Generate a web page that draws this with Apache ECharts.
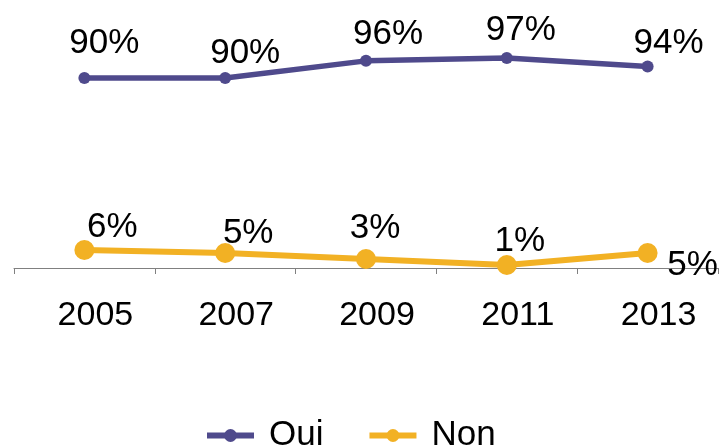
<!DOCTYPE html>
<html>
<head>
<meta charset="utf-8">
<script src="https://cdn.jsdelivr.net/npm/echarts@6/dist/echarts.min.js"></script>
<style>
  html, body { margin: 0; padding: 0; background: #fff; }
  #chart { width: 721px; height: 448px; }
</style>
</head>
<body>
<div id="chart"></div>
<script>
// data
const years = ['2005', '2007', '2009', '2011', '2013'];
const oui = [90, 90, 96, 97, 94];
const non = [6, 5, 3, 1, 5];

// label nudges (px, relative to the point) - layout only
const ouiLabelShift = [[20, -35], [20, -25], [22, -27], [14, -28], [21, -23]];
const nonLabelShift = [[28, -23], [23, -20], [9, -31], [13, -24], [45, 12]];

const font = 'Liberation Sans';

function withLabels(values, shifts) {
  return values.map((v, i) => ({
    value: v,
    label: { offset: shifts[i] },
  }));
}

const chart = echarts.init(document.getElementById('chart'));

const option = {
  animation: false,
  grid: { left: 14, right: 3, top: 0, bottom: 180 },
  xAxis: {
    type: 'category',
    data: years,
    boundaryGap: true,
    axisLine: { lineStyle: { color: '#808080', width: 1 } },
    axisTick: { show: true, length: 6, lineStyle: { color: '#808080' } },
    // labels sit a little right of the category centre in the original
    axisLabel: { color: '#000', fontFamily: font, fontSize: 34, margin: 31, padding: [0, 0, 0, 22] },
  },
  yAxis: [
    // Non sits on the main axis, 0 at the category line
    { type: 'value', min: 0, max: 89.33, show: false },
    // Oui has its own hidden scale (secondary axis in the original)
    { type: 'value', min: 23.5, max: 117.3, show: false },
  ],
  legend: {
    left: 204,
    top: 418,
    padding: 0,
    itemWidth: 47,
    itemHeight: 16,
    itemGap: 43,
    lineStyle: { width: 6 },
    textStyle: { color: '#000', fontFamily: font, fontSize: 35, padding: [2, 0, 0, 10] },
    data: ['Oui', 'Non'],
  },
  series: [
    {
      name: 'Oui',
      type: 'line',
      yAxisIndex: 1,
      data: withLabels(oui, ouiLabelShift),
      symbol: 'circle',
      symbolSize: 12,
      color: '#4f4a8c',
      lineStyle: { width: 5.5, color: '#4f4a8c' },
      label: {
        show: true,
        position: 'inside',
        formatter: '{c}%',
        color: '#000',
        fontFamily: font,
        fontSize: 35,
      },
    },
    {
      name: 'Non',
      type: 'line',
      yAxisIndex: 0,
      data: withLabels(non, nonLabelShift),
      symbol: 'circle',
      symbolSize: 20,
      color: '#f2b124',
      lineStyle: { width: 6, color: '#f2b124' },
      label: {
        show: true,
        position: 'inside',
        formatter: '{c}%',
        color: '#000',
        fontFamily: font,
        fontSize: 35,
      },
    },
  ],
};

chart.setOption(option);
</script>
</body>
</html>
